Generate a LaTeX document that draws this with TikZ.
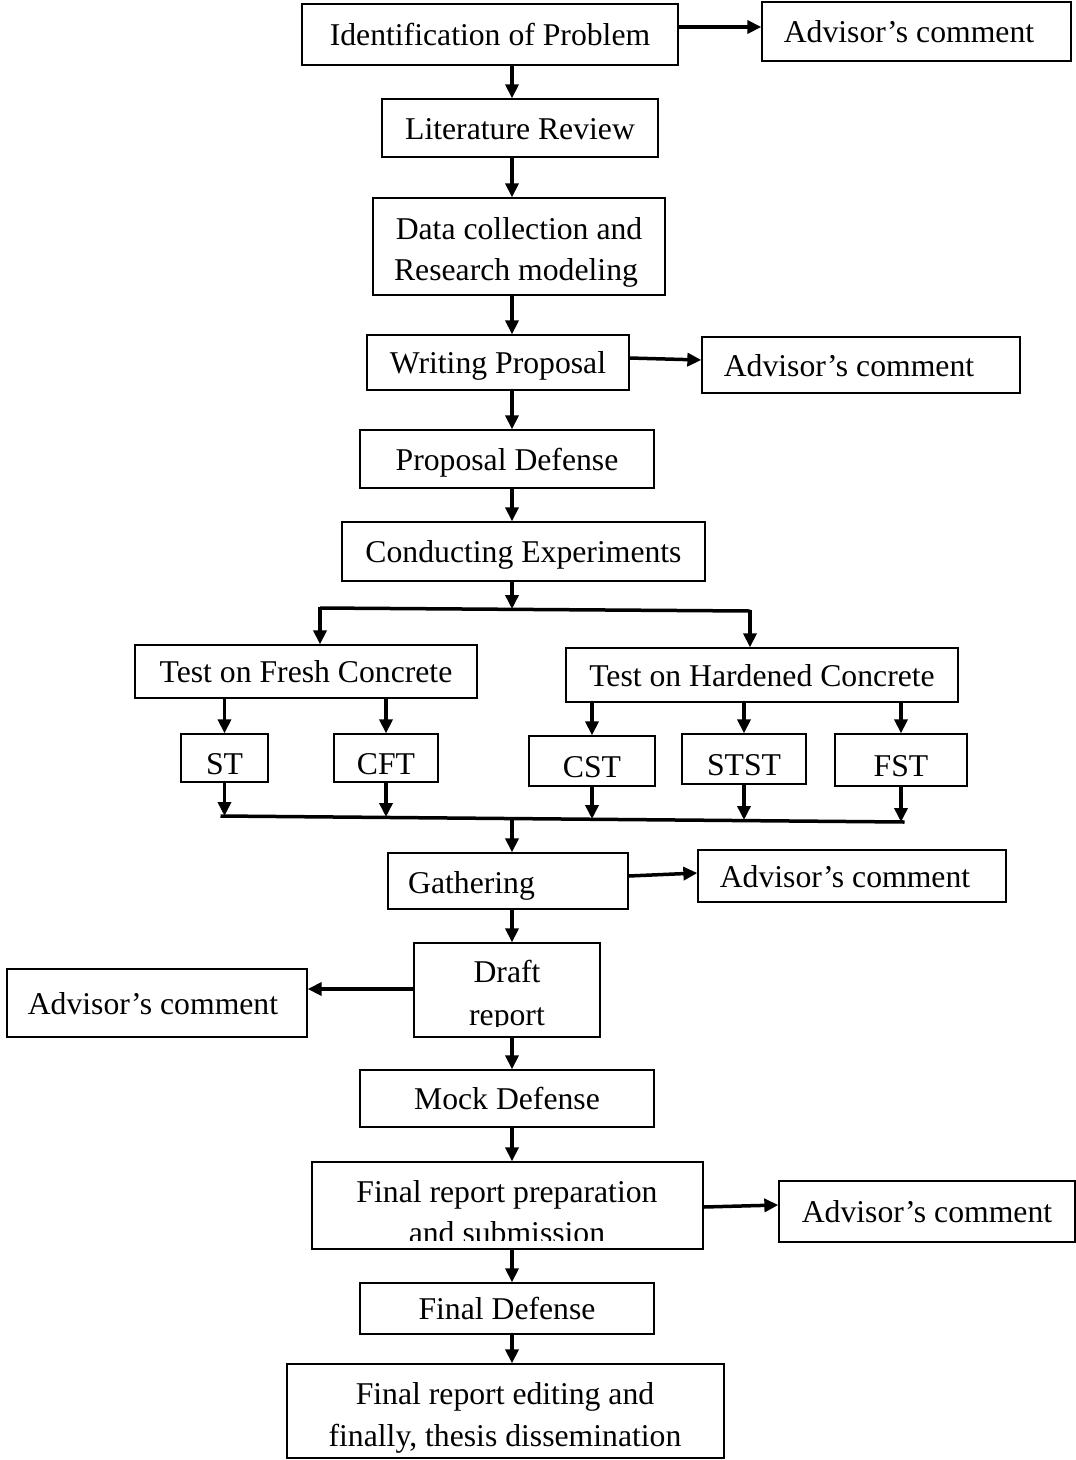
\documentclass[tikz,border=0pt]{standalone}
\usepackage{fontspec}
\setmainfont{Liberation Serif}
\usetikzlibrary{arrows.meta}
\newcommand{\fsz}{\fontsize{31.7}{41}\selectfont}
\begin{document}
\begin{tikzpicture}[x=1pt,y=-1pt,
  box/.style={draw, line width=1.3pt, inner sep=0pt, font=\fsz, text height=22pt, text depth=0pt},
  smallbox/.style={box, text height=32pt},
  txt/.style={font=\fsz, inner sep=0pt, anchor=base},
  arr/.style={line width=3.5pt, -{Triangle[length=14pt,width=13pt]}},
  link/.style={line width=3.5pt}]
\useasboundingbox (0,0) rectangle (1076,1460);
\coordinate (spine) at (512,0);
% main column
\node[box, minimum width=376pt, minimum height=61pt] (ident) at (490,34.5) {Identification of Problem};
\node[box, minimum width=309pt, minimum height=59pt] (adv1) at (916.5,31.5) {Advisor's comment\hspace*{15pt}};
\node[box, minimum width=276pt, minimum height=58pt] (lit) at (520,128) {Literature Review};
\node[box, minimum width=292pt, minimum height=97pt] (data) at (519,246.5) {};
\node[txt] (data1) at (519,239) {Data collection and};
\node[txt] (data2) at (516,280) {Research modeling};
\node[box, minimum width=262pt, minimum height=55pt] (write) at (498,362.5) {Writing Proposal};
\node[box, minimum width=318pt, minimum height=56pt] (adv2) at (861,365) {Advisor's comment\hspace*{24pt}};
\node[box, minimum width=294pt, minimum height=58pt] (pd) at (507,459) {Proposal Defense};
\node[box, minimum width=363pt, minimum height=59pt] (ce) at (523.5,551.5) {Conducting Experiments};
% branches
\node[box, minimum width=342pt, minimum height=53pt] (fresh) at (306,671.5) {Test on Fresh Concrete};
\node[box, minimum width=392pt, minimum height=54pt] (hard) at (762,675) {Test on Hardened Concrete};
\node[smallbox, minimum width=87pt, minimum height=48pt] (st) at (224.5,758) {ST};
\node[smallbox, minimum width=104pt, minimum height=48pt] (cft) at (386,758) {CFT};
\node[smallbox, minimum width=126pt, minimum height=50pt] (cst) at (592,761) {CST};
\node[smallbox, minimum width=124pt, minimum height=50pt] (stst) at (744,759) {STST};
\node[smallbox, minimum width=132pt, minimum height=52pt] (fst) at (901,760) {FST};
% lower column
\node[box, minimum width=240pt, minimum height=56pt] (gath) at (508,881) {};
\node[txt] (gathtxt) at (471.5,893) {Gathering};
\node[box, minimum width=308pt, minimum height=52pt] (adv3) at (852,876) {Advisor's comment\hspace*{14pt}};
\node[box, minimum width=186pt, minimum height=94pt] (draft) at (507,990) {};
\node[box, minimum width=300pt, minimum height=68pt] (adv4) at (157,1003) {Advisor's comment\hspace*{8pt}};
\node[box, minimum width=294pt, minimum height=57pt] (mock) at (507,1098.5) {Mock Defense};
\node[box, minimum width=391pt, minimum height=87pt] (fprep) at (507.5,1205.5) {};
\node[box, minimum width=296pt, minimum height=61pt] (adv5) at (927,1211.5) {Advisor's comment};
\node[box, minimum width=294pt, minimum height=51pt] (fdef) at (507,1308.5) {Final Defense};
\node[box, minimum width=437pt, minimum height=94pt] (fedit) at (505.5,1411) {};
\node[txt] (fedit1) at (505,1404) {Final report editing and};
\node[txt] (fedit2) at (505,1446) {finally, thesis dissemination};
% clipped texts
\begin{scope}
  \clip (draft.north west) rectangle ([yshift=11pt]draft.south east);
  \node[txt] (draft1) at (507,982) {Draft};
  \node[txt] (draft2) at (507,1025) {report};
\end{scope}
\begin{scope}
  \clip (fprep.north west) rectangle ([yshift=9pt]fprep.south east);
  \node[txt] (fprep1) at (507,1202) {Final report preparation};
  \node[txt] (fprep2) at (507,1243) {and submission};
\end{scope}
% junction coordinates
\coordinate (jtop) at (512,609);
\coordinate (jl) at (320,608);
\coordinate (jr) at (750,611);
\coordinate (ml) at (222,816);
\coordinate (mr) at (903,822);
\coordinate (mm) at (512,819);
% vertical arrows
\draw[arr] (ident.south -| spine) -- (lit.north -| spine);
\draw[arr] (lit.south -| spine) -- (data.north -| spine);
\draw[arr] (data.south -| spine) -- (write.north -| spine);
\draw[arr] (write.south -| spine) -- (pd.north -| spine);
\draw[arr] (pd.south -| spine) -- (ce.north -| spine);
\draw[arr] (ce.south -| spine) -- (jtop);
\draw[link] (jl) -- (jr);
\draw[arr] ([yshift=1.5pt]jl) -- (fresh.north -| jl);
\draw[arr] ([yshift=1.5pt]jr) -- (hard.north -| jr);
\draw[arr] (fresh.south -| st) -- (st.north);
\draw[arr] (fresh.south -| cft) -- (cft.north);
\draw[arr] (hard.south -| cst) -- (cst.north);
\draw[arr] (hard.south -| stst) -- (stst.north);
\draw[arr] (hard.south -| fst) -- (fst.north);
\draw[link] ([xshift=-1.5pt]ml) -- ([xshift=1.5pt]mr);
\draw[arr] (st.south) -- (st.south |- ml);
\draw[arr] (cft.south) -- (cft.south |- 0,817);
\draw[arr] (cst.south) -- (cst.south |- 0,819);
\draw[arr] (stst.south) -- (stst.south |- 0,820);
\draw[arr] (fst.south) -- (fst.south |- mr);
\draw[arr] ([yshift=1.5pt]mm) -- (gath.north -| spine);
\draw[arr] (gath.south -| spine) -- (draft.north -| spine);
\draw[arr] (draft.south -| spine) -- (mock.north -| spine);
\draw[arr] (mock.south -| spine) -- (fprep.north -| spine);
\draw[arr] (fprep.south -| spine) -- (fdef.north -| spine);
\draw[arr] (fdef.south -| spine) -- (fedit.north -| spine);
% side arrows to advisor
\draw[arr] ([yshift=7.5pt]ident.east) -- ([yshift=4.5pt]adv1.west);
\draw[arr] ([yshift=4.5pt]write.east) -- ([yshift=5pt]adv2.west);
\draw[arr] ([yshift=5pt]gath.east) -- ([yshift=3pt]adv3.west);
\draw[arr] ([yshift=1pt]draft.west) -- ([yshift=14pt]adv4.east);
\draw[arr] ([yshift=-1.5pt]fprep.east) -- ([yshift=6.5pt]adv5.west);
\end{tikzpicture}
\end{document}
